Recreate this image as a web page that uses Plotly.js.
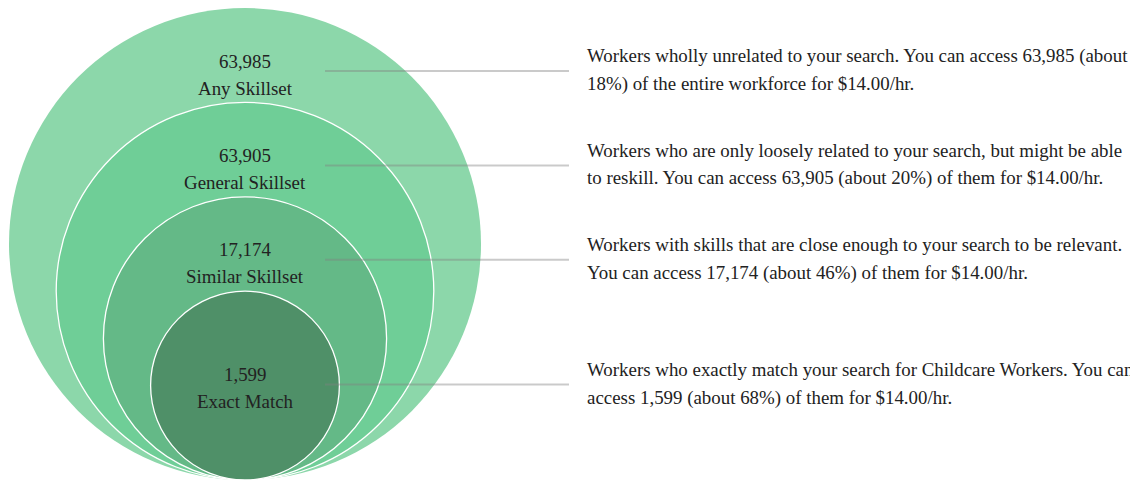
<!DOCTYPE html>
<html>
<head>
<meta charset="utf-8">
<script src="https://cdn.plot.ly/plotly-3.0.1.min.js"></script>
<style>
  html, body { margin: 0; padding: 0; background: #fff; }
  #chart { width: 1130px; height: 480px; overflow: hidden; }
</style>
</head>
<body>
<div id="chart"></div>
<script>
// ---- data ----
const categories = ['Any Skillset', 'General Skillset', 'Similar Skillset', 'Exact Match'];
const counts = [63985, 63905, 17174, 1599];
const shares = [18, 20, 46, 68];
const descLine1 = [
  'Workers wholly unrelated to your search. You can access 63,985 (about',
  'Workers who are only loosely related to your search, but might be able',
  'Workers with skills that are close enough to your search to be relevant.',
  'Workers who exactly match your search for Childcare Workers. You can'
];
const descLine2 = [
  '18%) of the entire workforce for $14.00/hr.',
  'to reskill. You can access 63,905 (about 20%) of them for $14.00/hr.',
  'You can access 17,174 (about 46%) of them for $14.00/hr.',
  'access 1,599 (about 68%) of them for $14.00/hr.'
];

// ---- styling / layout ----
const fills = ['#8cd7aa', '#6fce97', '#64b987', '#4f9068'];
const U = 47.2;               // pixels per ring unit
const W = 1130, H = 480;
const px = v => v / U;        // pixel distance -> axis units
const font = { family: 'Liberation Serif, Times New Roman, serif', size: 18.9, color: '#222' };

const n = categories.length;
const shapes = [];
const annotations = [];
const fmt = v => v.toLocaleString('en-US');

categories.forEach((cat, i) => {
  const r = n + 1 - i;          // ring radius in units (5,4,3,2)
  shapes.push({
    type: 'circle', xref: 'x', yref: 'y',
    x0: -r, x1: r, y0: 0, y1: 2 * r,
    fillcolor: fills[i],
    line: { color: i === 0 ? fills[i] : '#ffffff', width: i === 0 ? 0 : 1.3 },
    layer: 'above'
  });
  const inner = i === n - 1;
  const yNum = inner ? r + px(11) : 2 * r - px(53);
  const yLab = inner ? r - px(16) : 2 * r - px(80);
  const yLine = inner ? r + px(1) : 2 * r - px(63);
  annotations.push({ x: 0, y: yNum, xref: 'x', yref: 'y', text: fmt(counts[i]),
    showarrow: false, xanchor: 'center', yanchor: 'middle', font });
  annotations.push({ x: 0, y: yLab, xref: 'x', yref: 'y', text: cat,
    showarrow: false, xanchor: 'center', yanchor: 'middle', font });
  shapes.push({
    type: 'line', xref: 'x', yref: 'y',
    x0: px(80), x1: px(324), y0: yLine, y1: yLine,
    line: { color: 'rgba(128,128,128,0.42)', width: 2 },
    layer: 'above'
  });
  annotations.push({ x: px(340), y: yLine + px(15), xref: 'x', yref: 'y', text: descLine1[i],
    showarrow: false, xanchor: 'left', yanchor: 'middle', align: 'left', font });
  annotations.push({ x: px(340), y: yLine - px(13), xref: 'x', yref: 'y', text: descLine2[i],
    showarrow: false, xanchor: 'left', yanchor: 'middle', align: 'left', font });
});

const layout = {
  width: W, height: H,
  margin: { l: 0, r: 0, t: 0, b: 0, pad: 0 },
  paper_bgcolor: '#fff', plot_bgcolor: '#fff',
  showlegend: false,
  xaxis: { range: [px(-245), px(W - 245)], visible: false, fixedrange: true },
  yaxis: { range: [0, px(H)], visible: false, fixedrange: true },
  shapes, annotations
};

Plotly.newPlot('chart', [{ x: [], y: [], type: 'scatter', mode: 'markers', hoverinfo: 'skip' }], layout,
  { staticPlot: true, displayModeBar: false });
</script>
</body>
</html>
